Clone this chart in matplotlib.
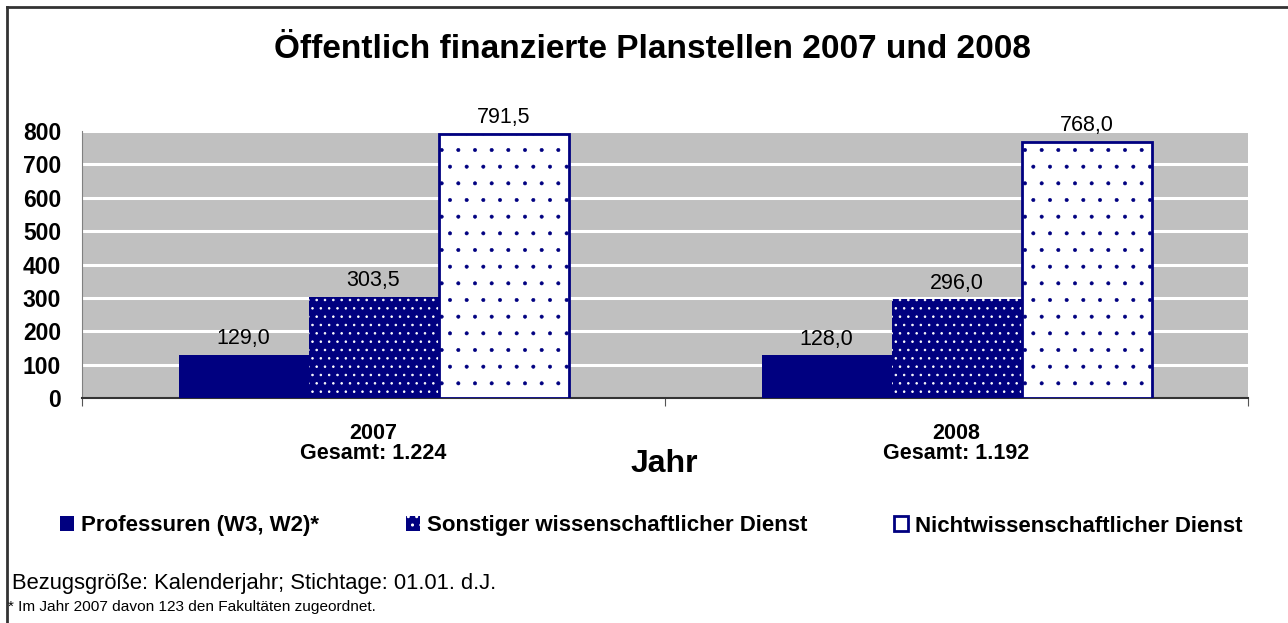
import numpy as np
import matplotlib
matplotlib.use("Agg")
from matplotlib import pyplot as plt
from matplotlib.patches import Patch
from matplotlib.lines import Line2D

plt.rcParams['font.family'] = ['Liberation Sans', 'DejaVu Sans']

years = ['2007', '2008']
totals = ['1.224', '1.192']
series_names = ['Professuren (W3, W2)*', 'Sonstiger wissenschaftlicher Dienst',
                'Nichtwissenschaftlicher Dienst']
professuren = [129.0, 128.0]
sonstige = [303.5, 296.0]
nichtwiss = [791.5, 768.0]

navy = '#000080'


def fmt(v):
    return f'{v:.1f}'.replace('.', ',')


fig = plt.figure(figsize=(12.88, 6.23), dpi=100)
ax = fig.add_axes([82 / 1288, 1 - 398 / 623, (1248 - 82) / 1288, (398 - 131) / 623])
ax.set_facecolor('#C0C0C0')

x = np.arange(len(years))
w = 130 / 583

b1 = ax.bar(x - w, professuren, w, color=navy, linewidth=0, zorder=3)
with plt.rc_context({'hatch.linewidth': 0.6}):
    b2 = ax.bar(x, sonstige, w, facecolor=navy, edgecolor='white', linewidth=0,
                hatch='..', zorder=3)
with plt.rc_context({'hatch.linewidth': 0.4}):
    b3 = ax.bar(x + w, nichtwiss, w, facecolor='white', edgecolor=navy, linewidth=2,
                hatch='.', zorder=3)

for bars, vals in [(b1, professuren), (b2, sonstige), (b3, nichtwiss)]:
    ax.bar_label(bars, labels=[fmt(v) for v in vals], padding=4, fontsize=15.5, zorder=4)

ax.set_xlim(-0.5, 1.5)
ax.set_ylim(0, 800)
ax.set_yticks(np.arange(0, 801, 100))
ax.yaxis.grid(True, color='white', linewidth=2.2)
ax.set_axisbelow(True)
ax.tick_params(axis='y', length=0, pad=15, labelsize=16.5)
for lab in ax.get_yticklabels():
    lab.set_fontweight('bold')

ax.set_xticks([-0.5, 0.5, 1.5])
ax.set_xticklabels([])
ax.tick_params(axis='x', length=6, color='#555555', direction='out')
ax.set_xticks(x, minor=True)
ax.set_xticklabels([f'{y}\nGesamt: {t}' for y, t in zip(years, totals)], minor=True,
                   fontsize=15.5, fontweight='bold', linespacing=0.95)
ax.tick_params(axis='x', which='minor', length=0, pad=18)

for s in ['top', 'right']:
    ax.spines[s].set_visible(False)
ax.spines['left'].set_color('#808080')
ax.spines['bottom'].set_color('#333333')
ax.spines['bottom'].set_linewidth(1.5)

fig.text(664 / 1288, 1 - 464 / 623, 'Jahr', fontsize=23, fontweight='bold',
         ha='center', va='center')
fig.text(652 / 1288, 1 - 50 / 623, 'Öffentlich finanzierte Planstellen 2007 und 2008',
         fontsize=24, fontweight='bold', ha='center', va='center')

with plt.rc_context({'hatch.linewidth': 0.6}):
    handles = [Patch(facecolor=navy, edgecolor=navy, linewidth=0),
               Patch(facecolor=navy, edgecolor='white', linewidth=0, hatch='..'),
               Patch(facecolor='white', edgecolor=navy, linewidth=2)]
fig.legend(handles, series_names, loc='center', bbox_to_anchor=(651 / 1288, 1 - 526 / 623),
           ncol=3, frameon=False, prop={'weight': 'bold', 'size': 16},
           handlelength=0.65, handleheight=0.65, handletextpad=0.3, columnspacing=3.9)

fig.text(12 / 1288, 1 - 583 / 623, 'Bezugsgröße: Kalenderjahr; Stichtage: 01.01. d.J.',
         fontsize=15.8, ha='left', va='center')
fig.text(8 / 1288, 1 - 607 / 623, '* Im Jahr 2007 davon 123 den Fakultäten zugeordnet.',
         fontsize=11.1, ha='left', va='center')

# outer frame (top and left edge only visible)
fig.add_artist(Line2D([7 / 1288, 1], [1 - 7 / 623, 1 - 7 / 623], color='#333333', linewidth=2,
                      transform=fig.transFigure))
fig.add_artist(Line2D([7 / 1288, 7 / 1288], [0, 1 - 7 / 623], color='#333333', linewidth=2,
                      transform=fig.transFigure))

fig.savefig('out.png', dpi=100)
